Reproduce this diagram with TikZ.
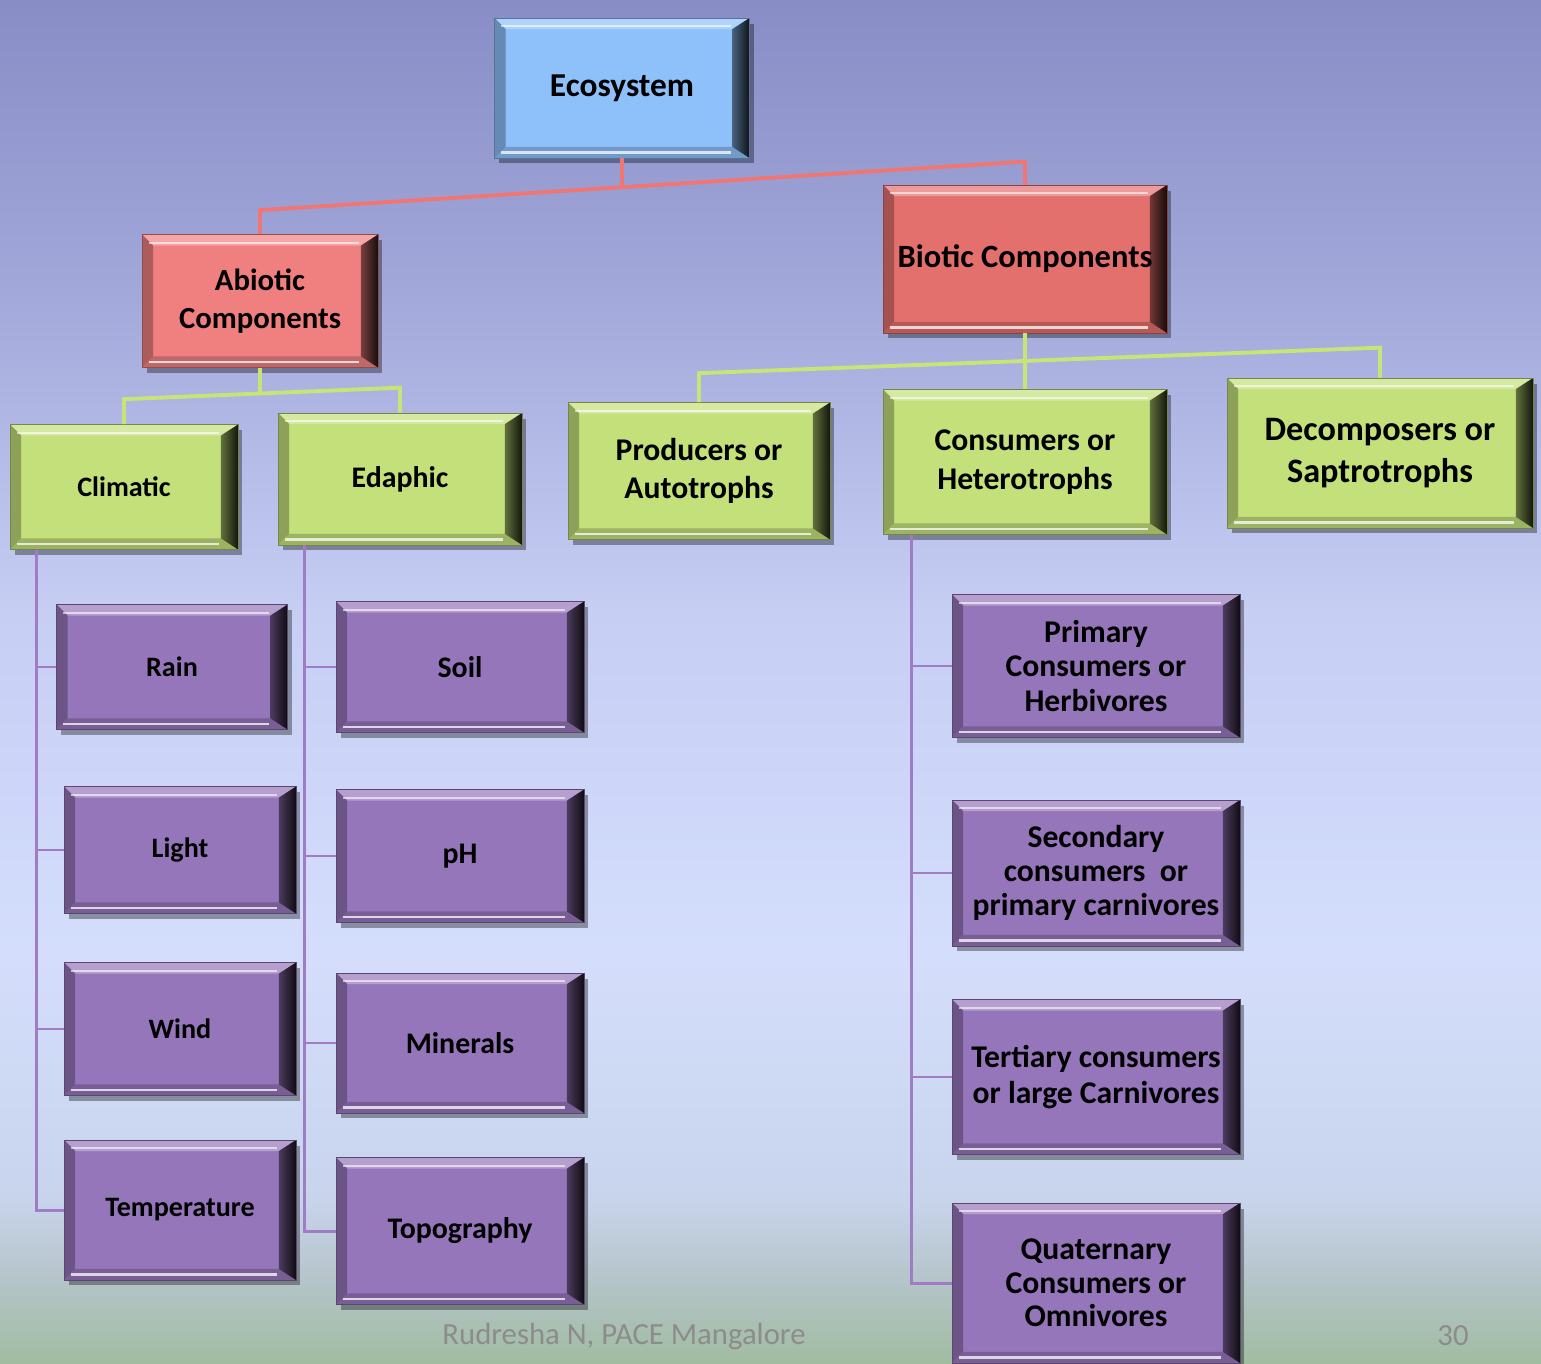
\documentclass[tikz,border=0pt]{standalone}
\usepackage{fontspec}
\setmainfont{Carlito}
\usetikzlibrary{calc,shadows}

\definecolor{ecoblue}{RGB}{142,192,250}
\definecolor{abired}{RGB}{240,128,128}
\definecolor{biored}{RGB}{228,112,110}
\definecolor{leafgreen}{RGB}{195,224,122}
\definecolor{plumbox}{RGB}{150,118,186}
\definecolor{redlink}{RGB}{240,118,116}
\definecolor{greenlink}{RGB}{200,228,118}
\definecolor{plumlink}{RGB}{160,124,196}
\definecolor{footgray}{RGB}{140,140,140}
\definecolor{bgA}{RGB}{160,188,160}
\definecolor{bgB}{RGB}{180,196,200}
\definecolor{bgC}{RGB}{200,212,236}
\definecolor{bgD}{RGB}{212,222,252}
\definecolor{bgE}{RGB}{198,206,244}
\definecolor{bgF}{RGB}{160,166,216}
\definecolor{bgG}{RGB}{136,141,198}

% the path fills the middle half of the shading (25bp--75bp)
\pgfdeclareverticalshading{slidebg}{100bp}{color(0bp)=(bgA); color(25bp)=(bgA); color(28bp)=(bgB);
  color(31bp)=(bgC); color(40bp)=(bgD); color(52.5bp)=(bgE); color(65bp)=(bgF); color(75bp)=(bgG);
  color(100bp)=(bgG)}

\newcommand{\bevw}{0.22cm}
\newcommand{\bevr}{0.34cm}

\tikzset{
  bevelbox/.style={
    fill=#1, draw=#1!60!black, line width=0.4pt, align=center, inner sep=2pt,
    drop shadow={shadow xshift=0.9mm, shadow yshift=-1.1mm, opacity=0.35, fill=black},
    path picture={
      \coordinate (nw) at (path picture bounding box.north west);
      \coordinate (ne) at (path picture bounding box.north east);
      \coordinate (sw) at (path picture bounding box.south west);
      \coordinate (se) at (path picture bounding box.south east);
      \fill[#1!70!white] (nw) -- (ne) -- ($(ne)+(-\bevr,-\bevw)$) -- ($(nw)+(\bevw,-\bevw)$) -- cycle;
      \fill[#1!72!black] (nw) -- (sw) -- ($(sw)+(\bevw,\bevw)$) -- ($(nw)+(\bevw,-\bevw)$) -- cycle;
      \fill[#1!80!black] (sw) -- (se) -- ($(se)+(-\bevr,\bevw)$) -- ($(sw)+(\bevw,\bevw)$) -- cycle;
      \shade[left color=#1!50!black, right color=#1!10!black]
        (ne) -- (se) -- ($(se)+(-\bevr,\bevw)$) -- ($(ne)+(-\bevr,-\bevw)$) -- cycle;
      \draw[white, opacity=0.6, line width=0.9pt]
        ($(nw)+(0.6*\bevw,-0.75*\bevw)$) -- ($(ne)+(-1.1*\bevr,-0.75*\bevw)$);
      \draw[white, opacity=0.75, line width=1.2pt]
        ($(sw)+(0.6*\bevw,0.5*\bevw)$) -- ($(se)+(-1.1*\bevr,0.5*\bevw)$);
    }
  },
  leafbox/.style={bevelbox=leafgreen, font=\bfseries\fontsize{18}{22}\selectfont},
  plumbox/.style={bevelbox=plumbox, font=\bfseries\fontsize{17}{21}\selectfont},
  redline/.style={draw=redlink, line width=2.2pt},
  greenline/.style={draw=greenlink, line width=2.2pt},
  plumline/.style={draw=plumlink, line width=1.7pt},
}

\begin{document}
\begin{tikzpicture}[x=0.02cm, y=-0.02cm]
  \shade[shading=slidebg] (0,0) rectangle (1541,1364);
  \useasboundingbox (0,0) rectangle (1541,1364);

  % top levels
  \node[bevelbox=ecoblue, minimum width=5.1cm, minimum height=2.8cm,
        font=\bfseries\fontsize{19}{23}\selectfont] (eco) at (622,88) {Ecosystem};
  \node[bevelbox=abired, minimum width=4.72cm, minimum height=2.66cm,
        font=\bfseries\fontsize{17.5}{22}\selectfont] (abi) at (260,301) {Abiotic\\Components};
  \node[bevelbox=biored, minimum width=5.68cm, minimum height=2.96cm,
        font=\bfseries\fontsize{18.5}{22}\selectfont] (bio) at (1025,259) {Biotic Components};

  % second level
  \node[leafbox, minimum width=4.56cm, minimum height=2.5cm, font=\bfseries\fontsize{16}{20}\selectfont]
    (clim) at (124,487) {Climatic};
  \node[leafbox, minimum width=4.88cm, minimum height=2.64cm, font=\bfseries\fontsize{17}{20}\selectfont]
    (eda) at (400,479) {Edaphic};
  \node[leafbox, minimum width=5.24cm, minimum height=2.74cm] (prod) at (699,471) {Producers or\\Autotrophs};
  \node[leafbox, minimum width=5.68cm, minimum height=2.9cm] (cons) at (1025,462) {Consumers or\\Heterotrophs};
  \node[leafbox, minimum width=6.12cm, minimum height=3cm, font=\bfseries\fontsize{19.5}{24}\selectfont]
    (dec) at (1380,453) {Decomposers or\\Saptrotrophs};

  % climatic factors
  \node[plumbox, minimum width=4.62cm, minimum height=2.5cm, font=\bfseries\fontsize{16}{20}\selectfont]
    (rain) at (172,667) {Rain};
  \node[plumbox, minimum width=4.64cm, minimum height=2.54cm, font=\bfseries\fontsize{16}{20}\selectfont]
    (light) at (180,850) {Light};
  \node[plumbox, minimum width=4.64cm, minimum height=2.66cm, font=\bfseries\fontsize{16}{20}\selectfont]
    (wind) at (180,1029) {Wind};
  \node[plumbox, minimum width=4.64cm, minimum height=2.8cm, font=\bfseries\fontsize{16}{20}\selectfont]
    (temp) at (180,1210) {Temperature};

  % edaphic factors
  \node[plumbox, minimum width=4.96cm, minimum height=2.62cm] (soil) at (460,667) {Soil};
  \node[plumbox, minimum width=4.96cm, minimum height=2.66cm] (ph) at (460,856) {pH};
  \node[plumbox, minimum width=4.96cm, minimum height=2.8cm] (min) at (460,1043) {Minerals};
  \node[plumbox, minimum width=4.96cm, minimum height=2.94cm] (topo) at (460,1231) {Topography};

  % consumer levels
  \node[plumbox, minimum width=5.76cm, minimum height=2.86cm, font=\bfseries\fontsize{18}{19.5}\selectfont]
    (prim) at (1096,666) {Primary\\Consumers or\\Herbivores};
  \node[plumbox, minimum width=5.76cm, minimum height=2.92cm, font=\bfseries\fontsize{18}{19.5}\selectfont]
    (sec) at (1096,873) {Secondary\\consumers~ or\\primary carnivores};
  \node[plumbox, minimum width=5.76cm, minimum height=3.1cm, font=\bfseries\fontsize{18}{20}\selectfont]
    (ter) at (1096,1077) {Tertiary consumers\\or large Carnivores};
  \node[plumbox, minimum width=5.76cm, minimum height=3.2cm, font=\bfseries\fontsize{18}{19}\selectfont]
    (quat) at (1096,1283) {Quaternary\\Consumers or\\Omnivores};

  % red links
  \coordinate (ra) at ($(abi.north)+(0,0.48cm)$);
  \coordinate (rb) at ($(bio.north)+(0,0.46cm)$);
  \coordinate (rm) at ($(ra)!0.476!(rb)$);
  \draw[redline] (abi.north) -- (ra) -- (rb) -- (bio.north);
  \draw[redline] (eco.south) -- (eco.south |- rm);

  % green links
  \coordinate (ga) at ($(clim.north)+(0,0.5cm)$);
  \coordinate (gb) at ($(eda.north)+(0,0.5cm)$);
  \draw[greenline] (clim.north) -- (ga) -- (gb) -- (eda.north);
  \draw[greenline] (abi.south) -- (abi.south |- {$(ga)!0.49!(gb)$});
  \coordinate (pa) at ($(prod.north)+(0,0.58cm)$);
  \coordinate (da) at ($(dec.north)+(0,0.6cm)$);
  \draw[greenline] (prod.north) -- (pa) -- (da) -- (dec.north);
  \draw[greenline] (bio.south) -- (cons.north);

  % purple links
  \coordinate (cb) at ($(clim.south west)+(0.54cm,0)$);
  \draw[plumline] (cb) |- (temp.west);
  \foreach \n in {rain,light,wind}
    \draw[plumline] (cb |- \n.west) -- (\n.west);
  \coordinate (eb) at ($(eda.south west)+(0.54cm,0)$);
  \draw[plumline] (eb) |- (topo.west);
  \foreach \n in {soil,ph,min}
    \draw[plumline] (eb |- \n.west) -- (\n.west);
  \coordinate (hb) at ($(cons.south west)+(0.58cm,0)$);
  \draw[plumline] (hb) |- (quat.west);
  \foreach \n in {prim,sec,ter}
    \draw[plumline] (hb |- \n.west) -- (\n.west);

  % footer
  \node[text=footgray, font=\fontsize{17.5}{20}\selectfont] (foot) at (624,1336) {Rudresha N, PACE Mangalore};
  \node[text=footgray, font=\fontsize{17.5}{20}\selectfont] (page) at (1453,1336) {30};
\end{tikzpicture}
\end{document}
